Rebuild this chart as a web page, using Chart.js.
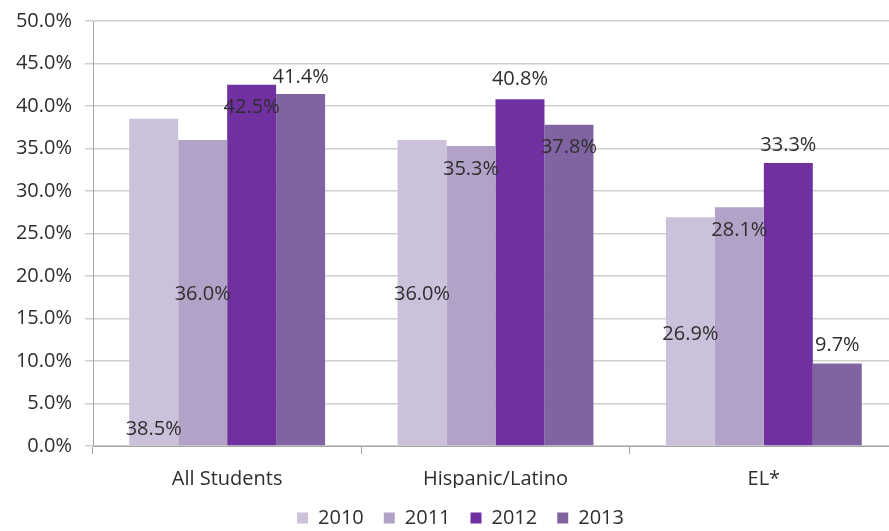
<!DOCTYPE html>
<html>
<head>
<meta charset="utf-8">
<script src="https://cdn.jsdelivr.net/npm/chart.js@4.4.1/dist/chart.umd.min.js"></script>
<style>
  html, body { margin: 0; padding: 0; background: #fff; overflow: hidden; }
  #wrap { position: relative; width: 898px; height: 531px; }
</style>
</head>
<body>
<div id="wrap"><canvas id="c"></canvas></div>
<script>
// ---- data ----
const categories = ["All Students", "Hispanic/Latino", "EL*"];
const years = ["2010", "2011", "2012", "2013"];
const v2010 = [38.5, 36.0, 26.9];
const v2011 = [36.0, 35.3, 28.1];
const v2012 = [42.5, 40.8, 33.3];
const v2013 = [41.4, 37.8, 9.7];
// value (in axis units) where each data label sits, as placed in the original
const label2010At = [2.0, 17.9, 13.1];
const label2011At = [17.9, 32.6, 25.4];
const label2012At = [39.8, 43.1, 35.4];
const label2013At = [43.4, 35.2, 11.8];

const colors = ["#CCC1DA", "#B3A2C7", "#7030A0", "#8064A2"];
const series = [v2010, v2011, v2012, v2013];
const labelAt = [label2010At, label2011At, label2012At, label2013At];
const FONT = "'Open Sans', sans-serif";
const TEXT = "#2e2e2e";

const dataLabels = {
  id: 'dataLabels',
  afterLayout(chart) {
    // nudge the legend to sit where the original places it
    chart.legend.left += 23;
  },
  afterDatasetsDraw(chart) {
    const ctx = chart.ctx;
    const y = chart.scales.y;
    ctx.save();
    ctx.font = "20px " + FONT;
    ctx.fillStyle = TEXT;
    ctx.textAlign = 'center';
    ctx.textBaseline = 'middle';
    chart.data.datasets.forEach((ds, di) => {
      const meta = chart.getDatasetMeta(di);
      meta.data.forEach((bar, i) => {
        const val = ds.data[i];
        ctx.fillText(val.toFixed(1) + '%', bar.x, y.getPixelForValue(labelAt[di][i]));
      });
    });
    ctx.restore();
  }
};

new Chart(document.getElementById('c'), {
  type: 'bar',
  data: {
    labels: categories,
    datasets: years.map((yr, k) => ({
      label: yr,
      data: series[k],
      backgroundColor: colors[k],
      borderWidth: 0,
      barPercentage: 1.0,
      categoryPercentage: 0.73
    }))
  },
  options: {
    responsive: true,
    maintainAspectRatio: false,
    animation: false,
    layout: { padding: { left: 0, right: 0, top: 21, bottom: -7 } },
    plugins: {
      legend: {
        position: 'bottom',
        labels: {
          boxWidth: 11, boxHeight: 11, padding: 20,
          color: TEXT,
          font: { family: FONT, size: 20 }
        }
      },
      tooltip: { enabled: false }
    },
    scales: {
      x: {
        grid: { display: true, drawOnChartArea: false, offset: true, tickLength: 8, color: '#a6a6a6' },
        border: { color: '#a6a6a6' },
        ticks: { color: TEXT, font: { family: FONT, size: 20 }, padding: 13 },
        afterFit(s) { s.height = 42; }
      },
      y: {
        min: 0, max: 50,
        grid: { color: '#cfcfcf', tickLength: 8, lineWidth: 1.5 },
        border: { color: '#a6a6a6' },
        ticks: {
          stepSize: 5, color: TEXT, font: { family: FONT, size: 20 }, padding: 13,
          callback: v => v.toFixed(1) + '%'
        },
        afterFit(s) { s.width = 93; s.paddingTop = 0; s.paddingBottom = 0; }
      }
    }
  },
  plugins: [dataLabels]
});
</script>
</body>
</html>
